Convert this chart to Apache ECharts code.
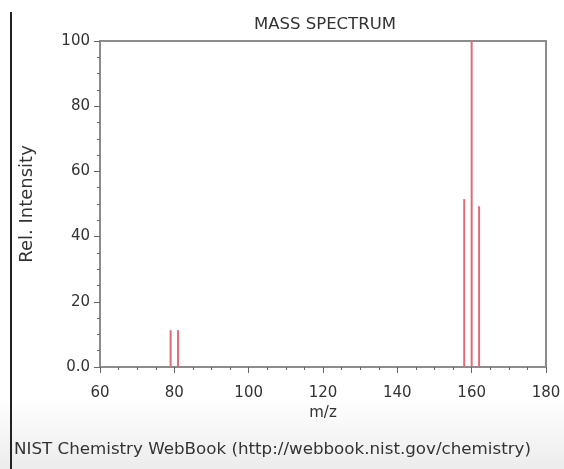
<!DOCTYPE html>
<html>
<head>
<meta charset="utf-8">
<script src="https://cdn.jsdelivr.net/npm/echarts@6/dist/echarts.min.js"></script>
<style>
  html, body { margin: 0; padding: 0; background: #fff; }
  #chart { width: 564px; height: 469px; }
</style>
</head>
<body>
<div id="chart"></div>
<script>
// peaks (m/z, relative intensity)
const mz = [79, 81, 158, 160, 162];
const intensity = [11.3, 11.3, 51.5, 100, 49.3];
const xTicks = [60, 80, 100, 120, 140, 160, 180];
const yTicks = [0, 20, 40, 60, 80, 100];

const FONT = 'DejaVu Sans';
const chart = echarts.init(document.getElementById('chart'));

const peaks = mz.map((m, i) => [m, intensity[i]]);

chart.setOption({
  animation: false,
  backgroundColor: '#fff',
  textStyle: { fontFamily: FONT },
  graphic: [
    {
      type: 'rect',
      z: -10,
      shape: { x: 0, y: 398, width: 564, height: 71 },
      style: {
        fill: new echarts.graphic.LinearGradient(0, 0, 0, 1, [
          { offset: 0, color: '#ffffff' },
          { offset: 1, color: '#ececec' }
        ])
      }
    },
    {
      type: 'rect',
      shape: { x: 10, y: 12, width: 2, height: 460 },
      style: { fill: '#222' }
    },
    {
      type: 'text',
      x: 325,
      y: 25,
      style: {
        text: 'MASS SPECTRUM',
        font: '16.5px "' + FONT + '"',
        fill: '#333',
        align: 'center',
        verticalAlign: 'middle'
      }
    },
    {
      type: 'text',
      left: 14,
      top: 441,
      style: {
        text: 'NIST Chemistry WebBook (http://webbook.nist.gov/chemistry)',
        font: '16.7px "' + FONT + '"',
        fill: '#333'
      }
    }
  ],
  grid: {
    left: 100, right: 18, top: 41, bottom: 102,
    show: true, borderColor: '#8c8c8c', borderWidth: 2, backgroundColor: '#fff'
  },
  xAxis: {
    type: 'value',
    min: xTicks[0], max: xTicks[xTicks.length - 1], interval: 20,
    name: 'm/z', nameLocation: 'middle', nameGap: 39,
    nameTextStyle: { fontSize: 15, color: '#333', fontFamily: FONT },
    axisLine: { show: true, lineStyle: { color: '#8c8c8c', width: 2 } },
    axisTick: { show: true, length: 6, lineStyle: { color: '#666' } },
    minorTick: { show: true, splitNumber: 4, length: 3, lineStyle: { color: '#666' } },
    splitLine: { show: false },
    axisLabel: { fontSize: 15, color: '#333', margin: 19, fontFamily: FONT }
  },
  yAxis: {
    type: 'value',
    min: yTicks[0], max: yTicks[yTicks.length - 1], interval: 20,
    name: 'Rel. Intensity', nameLocation: 'middle', nameGap: 64,
    nameTextStyle: { fontSize: 18, color: '#333', fontFamily: FONT },
    axisLine: { show: true, lineStyle: { color: '#8c8c8c', width: 2 } },
    axisTick: { show: true, length: 6, lineStyle: { color: '#666' } },
    minorTick: { show: true, splitNumber: 4, length: 3, lineStyle: { color: '#666' } },
    splitLine: { show: false },
    axisLabel: {
      fontSize: 15, color: '#333', margin: 10, fontFamily: FONT,
      formatter: v => v === 0 ? '0.0' : String(v)
    }
  },
  series: [{
    type: 'bar',
    data: peaks,
    barWidth: 2,
    itemStyle: { color: '#de6b7a' },
    z: 3
  }]
});
</script>
</body>
</html>
